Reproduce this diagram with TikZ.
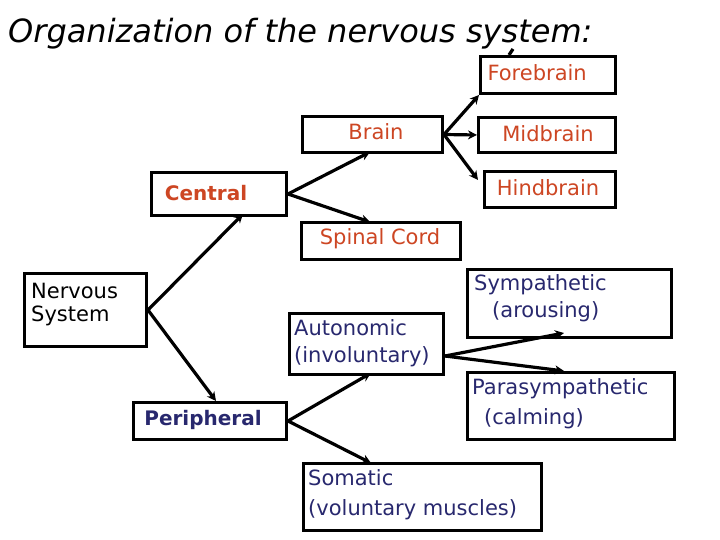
\documentclass[tikz,border=0pt]{standalone}
\usepackage{fontspec}
\setmainfont{DejaVu Sans}
\usetikzlibrary{arrows.meta}
\definecolor{rd}{RGB}{205,70,35}
\definecolor{bl}{RGB}{40,40,110}
\begin{document}
\begin{tikzpicture}[x=1pt,y=-1pt,
  box/.style={draw,line width=3pt,inner sep=0pt,anchor=north west},
  arr/.style={line width=3.2pt,-{Stealth[length=9pt,width=9pt]}},
  ln/.style={line width=3.2pt},
  rt/.style={text=rd,font=\fontsize{21}{24}\selectfont},
  bt/.style={text=bl,font=\fontsize{21}{27}\selectfont,align=left}]
\useasboundingbox (0,0) rectangle (720,540);
\fill[white] (0,0) rectangle (720,540);
\node[anchor=west,font=\itshape\fontsize{32}{36}\selectfont,inner sep=0pt] (title) at (8,34) {Organization of the nervous system:};
\node[box,minimum width=135pt,minimum height=37pt] (fore) at (479,55) {};
\node[rt,anchor=west] at (484,73) {Forebrain};
\node[box,minimum width=140pt,minimum height=36pt] (brain) at (301,115) {};
\node[rt] at (376,132) {Brain};
\node[box,minimum width=137pt,minimum height=35pt] (mid) at (477,116) {};
\node[rt] at (548,134) {Midbrain};
\node[box,minimum width=131pt,minimum height=36pt] (hind) at (483,170) {};
\node[rt] at (548,188) {Hindbrain};
\node[box,minimum width=135pt,minimum height=43pt] (central) at (150,171) {};
\node[rt,font=\bfseries\fontsize{20}{22}\selectfont] at (206,193) {Central};
\node[box,minimum width=159pt,minimum height=37pt] (spinal) at (300,221) {};
\node[rt] at (380,239) {Spinal Cord};
\node[box,minimum width=122pt,minimum height=73pt] (ns) at (23,272) {};
\node[anchor=north west,align=left,font=\fontsize{21}{23}\selectfont,inner sep=0pt] at (31,283) {Nervous\\System};
\node[box,minimum width=204pt,minimum height=68pt] (symp) at (466,268) {};
\node[bt,anchor=north west,inner sep=0pt] at (474,274) {Sympathetic\\\hspace*{18pt}(arousing)};
\node[box,minimum width=154pt,minimum height=61pt] (auto) at (288,312) {};
\node[bt,anchor=north west,inner sep=0pt] at (294,319) {Autonomic\\(involuntary)};
\node[box,minimum width=153pt,minimum height=37pt] (peri) at (132,401) {};
\node[bt,font=\bfseries\fontsize{20}{22}\selectfont] at (203,420) {Peripheral};
\node[box,minimum width=207pt,minimum height=67pt] (para) at (466,371) {};
\node[bt,anchor=north west,inner sep=0pt] at (472,378) {Parasympathetic\\[3pt]\hspace*{12pt}(calming)};
\node[box,minimum width=238pt,minimum height=67pt] (soma) at (302,462) {};
\node[bt,anchor=north west,inner sep=0pt] at (308,469) {Somatic\\[3pt](voluntary muscles)};
\coordinate (nsr) at (ns.east);
\coordinate (cr) at (central.east);
\coordinate (br) at (brain.east);
\coordinate (pr) at (peri.east);
\coordinate (ar) at ([yshift=-12pt]auto.east);
\draw[arr] (nsr) -- (243,214);
\draw[arr] (nsr) -- (216,401);
\draw[arr] (cr) -- (370,152);
\draw[arr] (cr) -- (370,222);
\draw[arr] (br) -- (fore.south west);
\draw[arr] (br) -- (mid.west);
\draw[arr] (br) -- (478,180);
\draw[ln] (fore.north west) ++(30,0) -- ++(4,-6);
\draw[arr] (pr) -- (371,373);
\draw[arr] (pr) -- (371,463);
\draw[arr] (ar) -- (564,333);
\draw[arr] (ar) -- (564,371);
\end{tikzpicture}
\end{document}
